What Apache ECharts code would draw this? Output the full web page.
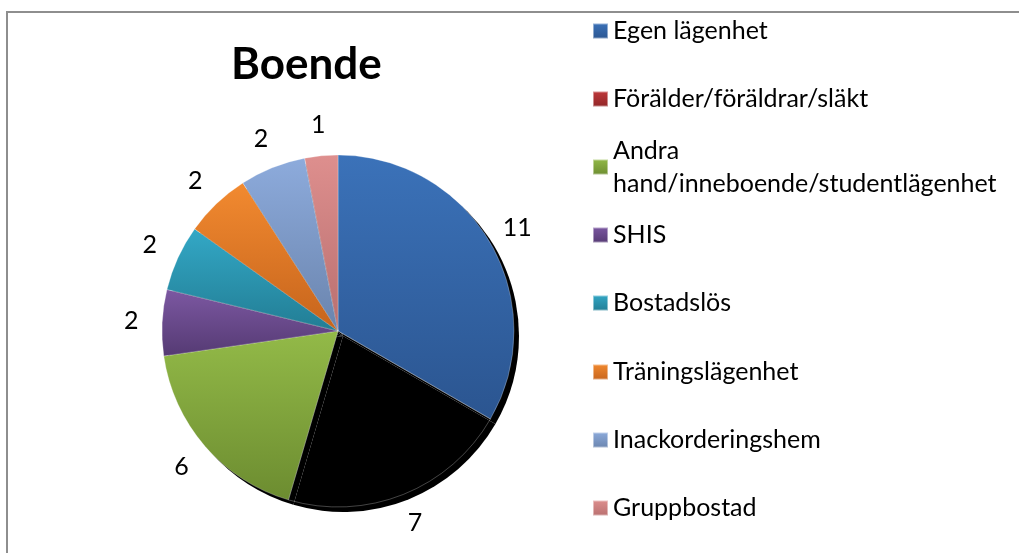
<!DOCTYPE html>
<html>
<head>
<meta charset="utf-8">
<script src="https://cdn.jsdelivr.net/npm/echarts@6/dist/echarts.min.js"></script>
<style>
  html, body { margin: 0; padding: 0; background: #fff; }
  #frame { position: absolute; left: 6px; top: 11px; width: 1030px; height: 560px;
           border-top: 2px solid #8e8e8e; border-left: 2px solid #8e8e8e; z-index: 0; }
  #chart { position: absolute; left: 0; top: 0; width: 1019px; height: 553px; z-index: 1; }
</style>
</head>
<body>
<div id="frame"></div>
<div id="chart"></div>
<script>
const title = 'Boende';
const categories = [
  'Egen lägenhet',
  'Förälder/föräldrar/släkt',
  'Andra hand/inneboende/studentlägenhet',
  'SHIS',
  'Bostadslös',
  'Träningslägenhet',
  'Inackorderingshem',
  'Gruppbostad'
];
const values = [11, 7, 6, 2, 2, 2, 2, 1];
// top / bottom gradient colours per slice
const colorTop    = ['#3b72b9', '#c0393b', '#93ba48', '#7c58a2', '#33a8c6', '#f28a30', '#8dabdc', '#de8f8e'];
const colorBottom = ['#2b5590', '#8f2527', '#6c8c30', '#553a73', '#227d94', '#c6641c', '#6a84ad', '#b86f6f'];

const FONT = 'Lato';
function grad(i) {
  return { type: 'linear', x: 0, y: 0, x2: 0, y2: 1,
    colorStops: [{ offset: 0, color: colorTop[i] }, { offset: 1, color: colorBottom[i] }] };
}

const mainData = categories.map((name, i) => ({
  name, value: values[i],
  itemStyle: { color: i === 1 ? 'rgba(255,255,255,0)' : grad(i) }
}));
const plainData = categories.map((name, i) => ({ name, value: values[i] }));

const legendCenters = [31, 99, 167, 235, 303, 372, 440, 508];
const LH = 33;
const legends = categories.map((name, i) => {
  const wrap = i === 2;
  const item = { name };
  if (i === 1) item.itemStyle = { color: grad(1) };
  return {
    orient: 'vertical',
    left: 592,
    top: wrap ? legendCenters[i] - LH * 1.5 : legendCenters[i] - LH / 2,
    padding: 0,
    icon: 'rect',
    itemWidth: 15,
    itemHeight: 15,
    selectedMode: false,
    data: [item],
    formatter: wrap ? () => 'Andra\nhand/inneboende/studentlägenhet' : undefined,
    textStyle: {
      fontFamily: FONT, fontSize: 25, color: '#000', lineHeight: LH,
      padding: wrap ? [LH, 0, 0, 0] : 0
    }
  };
});

const CENTER = [338, 331];
const chart = echarts.init(document.getElementById('chart'));
chart.setOption({
  animation: false,
  title: {
    text: title, left: 226, top: 38,
    textStyle: { fontFamily: FONT, fontWeight: 'bold', fontSize: 44, color: '#000' }
  },
  legend: legends,
  series: [
    {
      type: 'pie',
      name: 'main',
      z: 3,
      center: CENTER,
      radius: 176,
      startAngle: 90,
      clockwise: true,
      itemStyle: { borderColor: 'rgba(255,255,255,0.45)', borderWidth: 0.6 },
      label: { show: false },
      labelLine: { show: false },
      emphasis: { disabled: true },
      data: mainData
    },
    {
      type: 'pie',
      name: 'shadow',
      z: 1,
      silent: true,
      legendHoverLink: false,
      center: [343, 336],
      radius: 176,
      startAngle: 90,
      clockwise: true,
      itemStyle: { color: '#000', borderWidth: 0 },
      label: { show: false },
      labelLine: { show: false },
      emphasis: { disabled: true },
      data: plainData
    },
    {
      // transparent ring used only to place the value labels around the pie
      type: 'pie',
      name: 'labels',
      z: 4,
      silent: true,
      legendHoverLink: false,
      center: CENTER,
      radius: [194, 214],
      startAngle: 90,
      clockwise: true,
      itemStyle: { color: 'rgba(0,0,0,0)', borderWidth: 0 },
      label: {
        show: true, position: 'inside', formatter: '{c}',
        fontFamily: FONT, fontSize: 25, color: '#000'
      },
      labelLine: { show: false },
      emphasis: { disabled: true },
      data: plainData
    }
  ]
});
</script>
</body>
</html>
